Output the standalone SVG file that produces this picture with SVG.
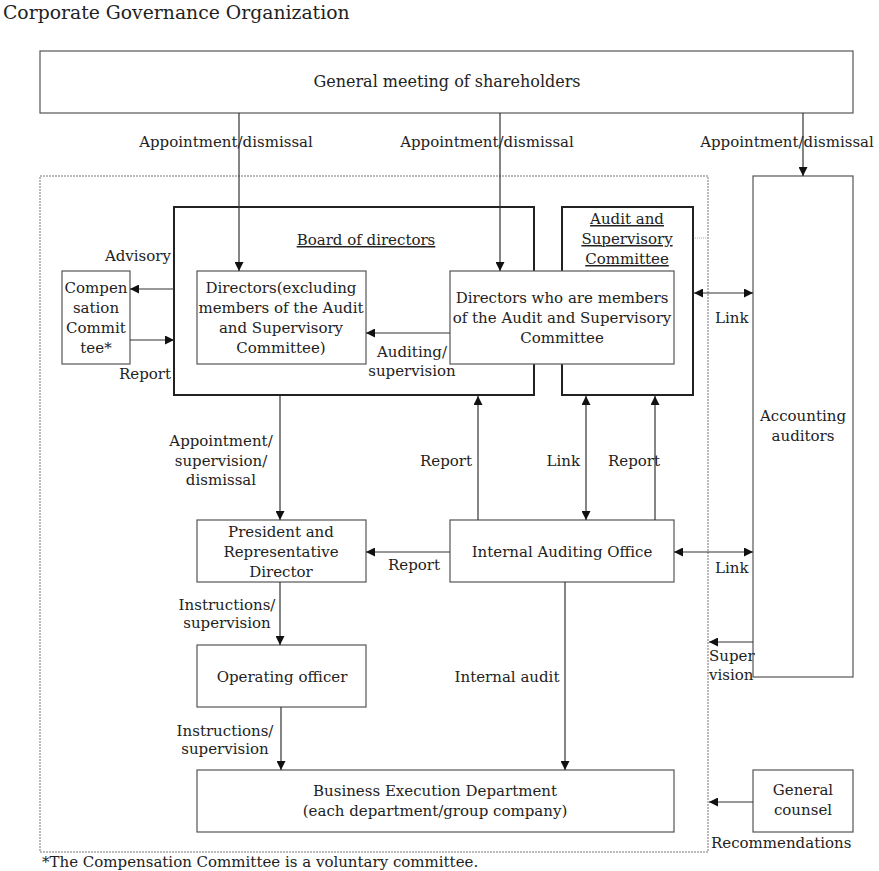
<svg xmlns="http://www.w3.org/2000/svg" width="879" height="871" viewBox="0 0 879 871">
<style>
text{font-family:"DejaVu Serif","Liberation Serif",serif;font-size:15px;fill:#222}
.c{text-anchor:middle}
.r{text-anchor:end}
.u{text-decoration:underline}
.box{fill:#fff;stroke:#555;stroke-width:1.2}
.thick{fill:none;stroke:#222;stroke-width:2}
.ln{stroke:#333;stroke-width:1.2;fill:none}
</style>
<defs>
<marker id="ah" viewBox="0 0 10 10" refX="10" refY="5" markerWidth="9" markerHeight="9" markerUnits="userSpaceOnUse" orient="auto-start-reverse">
<path d="M0,0 L10,5 L0,10 z" fill="#111"/>
</marker>
</defs>
<rect width="879" height="871" fill="#fff"/>
<text x="3" y="19" style="font-size:18.8px">Corporate Governance Organization</text>

<g id="outer">
<rect x="40" y="176" width="668" height="676" fill="none" stroke="#777" stroke-width="1" stroke-dasharray="2,1"/>
<line x1="693" y1="238" x2="708" y2="238" stroke="#aaa" stroke-width="1" stroke-dasharray="1,1"/>
</g>

<g id="shareholders">
<rect class="box" x="40" y="51" width="813" height="62"/>
<text class="c" x="447" y="87" style="font-size:16px">General meeting of shareholders</text>
</g>

<g id="board">
<rect class="thick" x="174" y="207" width="360" height="188"/>
<text class="c u" x="366" y="245">Board of directors</text>
</g>

<g id="audit-committee">
<rect class="thick" x="562" y="207" width="131" height="188"/>
<text class="c u" x="627" y="224">Audit and</text>
<text class="c u" x="627" y="244">Supervisory</text>
<text class="c u" x="627" y="264">Committee</text>
</g>

<g id="directors">
<rect class="box" x="197" y="271" width="169" height="93"/>
<text class="c" x="281" y="293">Directors(excluding</text>
<text class="c" x="281" y="313">members of the Audit</text>
<text class="c" x="281" y="333">and Supervisory</text>
<text class="c" x="281" y="353">Committee)</text>
</g>

<g id="audit-directors">
<rect class="box" x="450" y="271" width="224" height="93"/>
<text class="c" x="562" y="303">Directors who are members</text>
<text class="c" x="562" y="323">of the Audit and Supervisory</text>
<text class="c" x="562" y="343">Committee</text>
</g>

<g id="compensation">
<rect class="box" x="62" y="271" width="68" height="93"/>
<text class="c" x="96" y="293">Compen</text>
<text class="c" x="96" y="313">sation</text>
<text class="c" x="96" y="333">Commit</text>
<text class="c" x="96" y="353">tee*</text>
</g>

<g id="accounting">
<rect class="box" x="753" y="176" width="100" height="501"/>
<text class="c" x="803" y="421">Accounting</text>
<text class="c" x="803" y="441">auditors</text>
</g>

<g id="president">
<rect class="box" x="197" y="520" width="169" height="62"/>
<text class="c" x="281" y="537">President and</text>
<text class="c" x="281" y="557">Representative</text>
<text class="c" x="281" y="577">Director</text>
</g>

<g id="internal-audit">
<rect class="box" x="450" y="520" width="224" height="62"/>
<text class="c" x="562" y="557">Internal Auditing Office</text>
</g>

<g id="operating">
<rect class="box" x="197" y="645" width="169" height="62"/>
<text class="c" x="282" y="682">Operating officer</text>
</g>

<g id="business">
<rect class="box" x="197" y="770" width="477" height="62"/>
<text class="c" x="435" y="796">Business Execution Department</text>
<text class="c" x="435" y="816">(each department/group company)</text>
</g>

<g id="counsel">
<rect class="box" x="753" y="770" width="100" height="62"/>
<text class="c" x="803" y="795">General</text>
<text class="c" x="803" y="815">counsel</text>
</g>

<g id="connectors">
<line class="ln" x1="239" y1="113" x2="239" y2="271" marker-end="url(#ah)"/>
<line class="ln" x1="500" y1="113" x2="500" y2="271" marker-end="url(#ah)"/>
<line class="ln" x1="803" y1="113" x2="803" y2="176" marker-end="url(#ah)"/>
<line class="ln" x1="174" y1="289" x2="130" y2="289" marker-end="url(#ah)"/>
<line class="ln" x1="130" y1="340" x2="174" y2="340" marker-end="url(#ah)"/>
<line class="ln" x1="450" y1="333" x2="366" y2="333" marker-end="url(#ah)"/>
<line class="ln" x1="694" y1="293" x2="753" y2="293" marker-start="url(#ah)" marker-end="url(#ah)"/>
<line class="ln" x1="280" y1="396" x2="280" y2="520" marker-end="url(#ah)"/>
<line class="ln" x1="478" y1="520" x2="478" y2="396" marker-end="url(#ah)"/>
<line class="ln" x1="586" y1="396" x2="586" y2="520" marker-start="url(#ah)" marker-end="url(#ah)"/>
<line class="ln" x1="655" y1="520" x2="655" y2="396" marker-end="url(#ah)"/>
<line class="ln" x1="450" y1="552" x2="366" y2="552" marker-end="url(#ah)"/>
<line class="ln" x1="674" y1="552" x2="753" y2="552" marker-start="url(#ah)" marker-end="url(#ah)"/>
<line class="ln" x1="565" y1="582" x2="565" y2="770" marker-end="url(#ah)"/>
<line class="ln" x1="280" y1="582" x2="280" y2="645" marker-end="url(#ah)"/>
<line class="ln" x1="281" y1="707" x2="281" y2="770" marker-end="url(#ah)"/>
<line class="ln" x1="753" y1="642" x2="709" y2="642" marker-end="url(#ah)"/>
<line class="ln" x1="753" y1="802" x2="709" y2="802" marker-end="url(#ah)"/>
</g>

<g id="labels">
<text class="c" x="226" y="147">Appointment/dismissal</text>
<text class="c" x="487" y="147">Appointment/dismissal</text>
<text class="c" x="787" y="147">Appointment/dismissal</text>
<text class="r" x="171" y="261">Advisory</text>
<text class="r" x="171" y="379">Report</text>
<text class="c" x="412" y="357">Auditing/</text>
<text class="c" x="412" y="376">supervision</text>
<text x="715" y="323">Link</text>
<text class="c" x="221" y="446">Appointment/</text>
<text class="c" x="221" y="466">supervision/</text>
<text class="c" x="221" y="485">dismissal</text>
<text class="r" x="472" y="466">Report</text>
<text class="r" x="580" y="466">Link</text>
<text x="608" y="466">Report</text>
<text class="c" x="414" y="570">Report</text>
<text x="715" y="573">Link</text>
<text class="c" x="227" y="610">Instructions/</text>
<text class="c" x="227" y="628">supervision</text>
<text class="c" x="507" y="682">Internal audit</text>
<text class="c" x="225" y="736">Instructions/</text>
<text class="c" x="225" y="754">supervision</text>
<text x="709" y="661">Super</text>
<text x="709" y="680">vision</text>
<text x="711" y="848">Recommendations</text>
<text x="42" y="867">*The Compensation Committee is a voluntary committee.</text>
</g>
</svg>
